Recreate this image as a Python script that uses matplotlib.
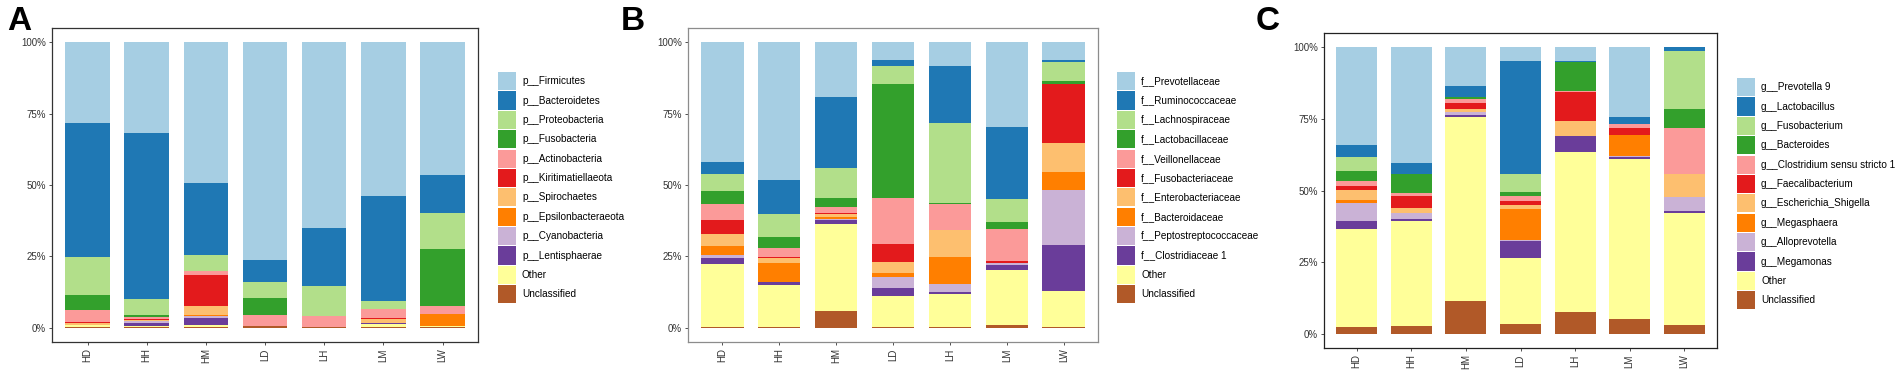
import matplotlib.pyplot as plt
import numpy as np

plt.rcParams['font.family'] = ['Liberation Sans', 'DejaVu Sans']

groups = ['HD', 'HH', 'HM', 'LD', 'LH', 'LM', 'LW']

# Paired palette, in legend order (top of stack first)
colors = ['#A6CEE3', '#1F78B4', '#B2DF8A', '#33A02C', '#FB9A99', '#E31A1C',
          '#FDBF6F', '#FF7F00', '#CAB2D6', '#6A3D9A', '#FFFF99', '#B15928']

phylum_labels = ['p__Firmicutes', 'p__Bacteroidetes', 'p__Proteobacteria',
                 'p__Fusobacteria', 'p__Actinobacteria', 'p__Kiritimatiellaeota',
                 'p__Spirochaetes', 'p__Epsilonbacteraeota', 'p__Cyanobacteria',
                 'p__Lentisphaerae', 'Other', 'Unclassified']
# relative abundance (%) per taxon (rows) for HD..LW (columns)
phylum_pct = [
    [28.2, 31.7, 49.2, 76.3, 65.0, 53.8, 46.6],
    [46.9, 58.3, 25.3, 7.6, 20.3, 36.8, 13.1],
    [13.3, 5.6, 5.7, 5.7, 10.6, 2.9, 12.6],
    [5.3, 0.8, 0.1, 6.0, 0.1, 0.1, 20.1],
    [4.2, 0.6, 1.3, 3.8, 3.8, 3.0, 2.8],
    [0.6, 0.3, 10.8, 0.0, 0.0, 0.4, 0.0],
    [0.4, 0.2, 3.3, 0.0, 0.0, 1.3, 0.0],
    [0.1, 0.1, 0.1, 0.0, 0.0, 0.1, 4.1],
    [0.1, 0.9, 0.9, 0.0, 0.0, 0.1, 0.0],
    [0.1, 0.9, 2.25, 0.0, 0.0, 0.3, 0.0],
    [0.6, 0.4, 0.7, 0.1, 0.1, 0.85, 0.3],
    [0.2, 0.2, 0.35, 0.5, 0.1, 0.35, 0.4],
]

family_labels = ['f__Prevotellaceae', 'f__Ruminococcaceae', 'f__Lachnospiraceae',
                 'f__Lactobacillaceae', 'f__Veillonellaceae', 'f__Fusobacteriaceae',
                 'f__Enterobacteriaceae', 'f__Bacteroidaceae',
                 'f__Peptostreptococcaceae', 'f__Clostridiaceae 1', 'Other',
                 'Unclassified']
family_pct = [
    [42.0, 48.1, 19.1, 6.2, 8.3, 29.6, 6.2],
    [4.1, 11.9, 25.1, 2.1, 20.1, 25.3, 0.8],
    [6.1, 8.3, 10.2, 6.3, 27.8, 8.1, 6.4],
    [4.3, 3.6, 3.3, 39.8, 0.6, 2.5, 1.3],
    [5.6, 3.2, 2.2, 16.4, 9.0, 11.1, 0.0],
    [5.2, 0.3, 0.2, 6.1, 0.0, 0.6, 20.5],
    [4.1, 1.8, 1.2, 4.0, 9.3, 0.1, 10.1],
    [3.2, 6.7, 0.6, 1.4, 9.6, 0.1, 6.5],
    [1.1, 0.2, 0.3, 3.7, 2.7, 0.5, 19.2],
    [2.1, 1.0, 1.5, 2.8, 0.7, 1.8, 16.1],
    [21.85, 14.55, 30.5, 10.85, 11.55, 19.4, 12.55],
    [0.35, 0.35, 5.8, 0.35, 0.35, 0.9, 0.35],
]

genus_labels = ['g__Prevotella 9', 'g__Lactobacillus', 'g__Fusobacterium',
                'g__Bacteroides', 'g__Clostridium sensu stricto 1',
                'g__Faecalibacterium', 'g__Escherichia_Shigella', 'g__Megasphaera',
                'g__Alloprevotella', 'g__Megamonas', 'Other', 'Unclassified']
genus_pct = [
    [34.1, 40.4, 13.5, 4.7, 4.8, 24.4, 0.0],
    [4.1, 3.7, 3.7, 39.7, 0.4, 2.3, 1.2],
    [4.9, 0.0, 0.2, 6.1, 0.0, 0.1, 20.2],
    [3.6, 6.9, 0.7, 1.5, 10.1, 0.1, 6.6],
    [1.8, 0.9, 1.2, 1.8, 0.4, 1.1, 16.1],
    [1.4, 4.2, 2.2, 1.3, 9.9, 2.7, 0.0],
    [3.5, 1.9, 1.0, 1.5, 5.3, 0.0, 8.1],
    [1.1, 0.0, 0.2, 10.8, 0.0, 7.2, 0.0],
    [6.1, 2.1, 1.1, 0.4, 0.0, 0.3, 5.0],
    [3.0, 0.5, 0.4, 5.7, 5.7, 0.7, 0.5],
    [34.2, 36.8, 64.5, 23.2, 55.9, 56.1, 39.4],
    [2.2, 2.6, 11.3, 3.3, 7.5, 5.0, 2.9],
]

W, H = 1904, 371
fig = plt.figure(figsize=(W / 100, H / 100), dpi=100)


def px_axes(left, right, top, bottom):
    return fig.add_axes([left / W, 1 - bottom / H, (right - left) / W, (bottom - top) / H])


def panel(ax, labels, pct, spine_color, leg_x, leg_y, letter, lx):
    pct = np.array(pct)
    x = np.arange(len(groups))
    bottom = np.zeros(len(groups))
    handles = [None] * len(labels)
    # stack from the last legend entry (bottom) to the first (top)
    for i in range(len(labels) - 1, -1, -1):
        handles[i] = ax.bar(x, pct[i], 0.75, bottom=bottom, color=colors[i],
                            linewidth=0, label=labels[i])
        bottom += pct[i]
    ax.set_xlim(-0.6, 6.6)
    ax.set_ylim(-5, 105)
    ax.set_yticks([0, 25, 50, 75, 100])
    ax.set_yticklabels(['0%', '25%', '50%', '75%', '100%'])
    ax.set_xticks(x)
    ax.set_xticklabels(groups, rotation=90)
    ax.tick_params(labelsize=7, colors='#333333', length=2.5, width=0.6, pad=2)
    for s in ax.spines.values():
        s.set_color(spine_color)
        s.set_linewidth(0.9)
    fig.legend(handles, labels, loc='upper left',
               bbox_to_anchor=(leg_x / W, 1 - leg_y / H), frameon=False,
               fontsize=7.2, handlelength=1.8, handleheight=2.42,
               labelspacing=0.12, handletextpad=0.6, borderpad=0,
               borderaxespad=0)
    fig.text(lx / W, 1 - 6 / H, letter, fontsize=24, fontweight='bold',
             ha='left', va='top')


axA = px_axes(52, 478, 28, 342)
panel(axA, phylum_labels, phylum_pct, '#333333', 498, 72, 'A', 7)

axB = px_axes(688, 1098, 28, 342)
panel(axB, family_labels, family_pct, '#8c8c8c', 1117, 72, 'B', 621)

axC = px_axes(1324, 1717, 33, 348)
panel(axC, genus_labels, genus_pct, '#222222', 1737, 78, 'C', 1256)

fig.savefig('out.png', dpi=100)
